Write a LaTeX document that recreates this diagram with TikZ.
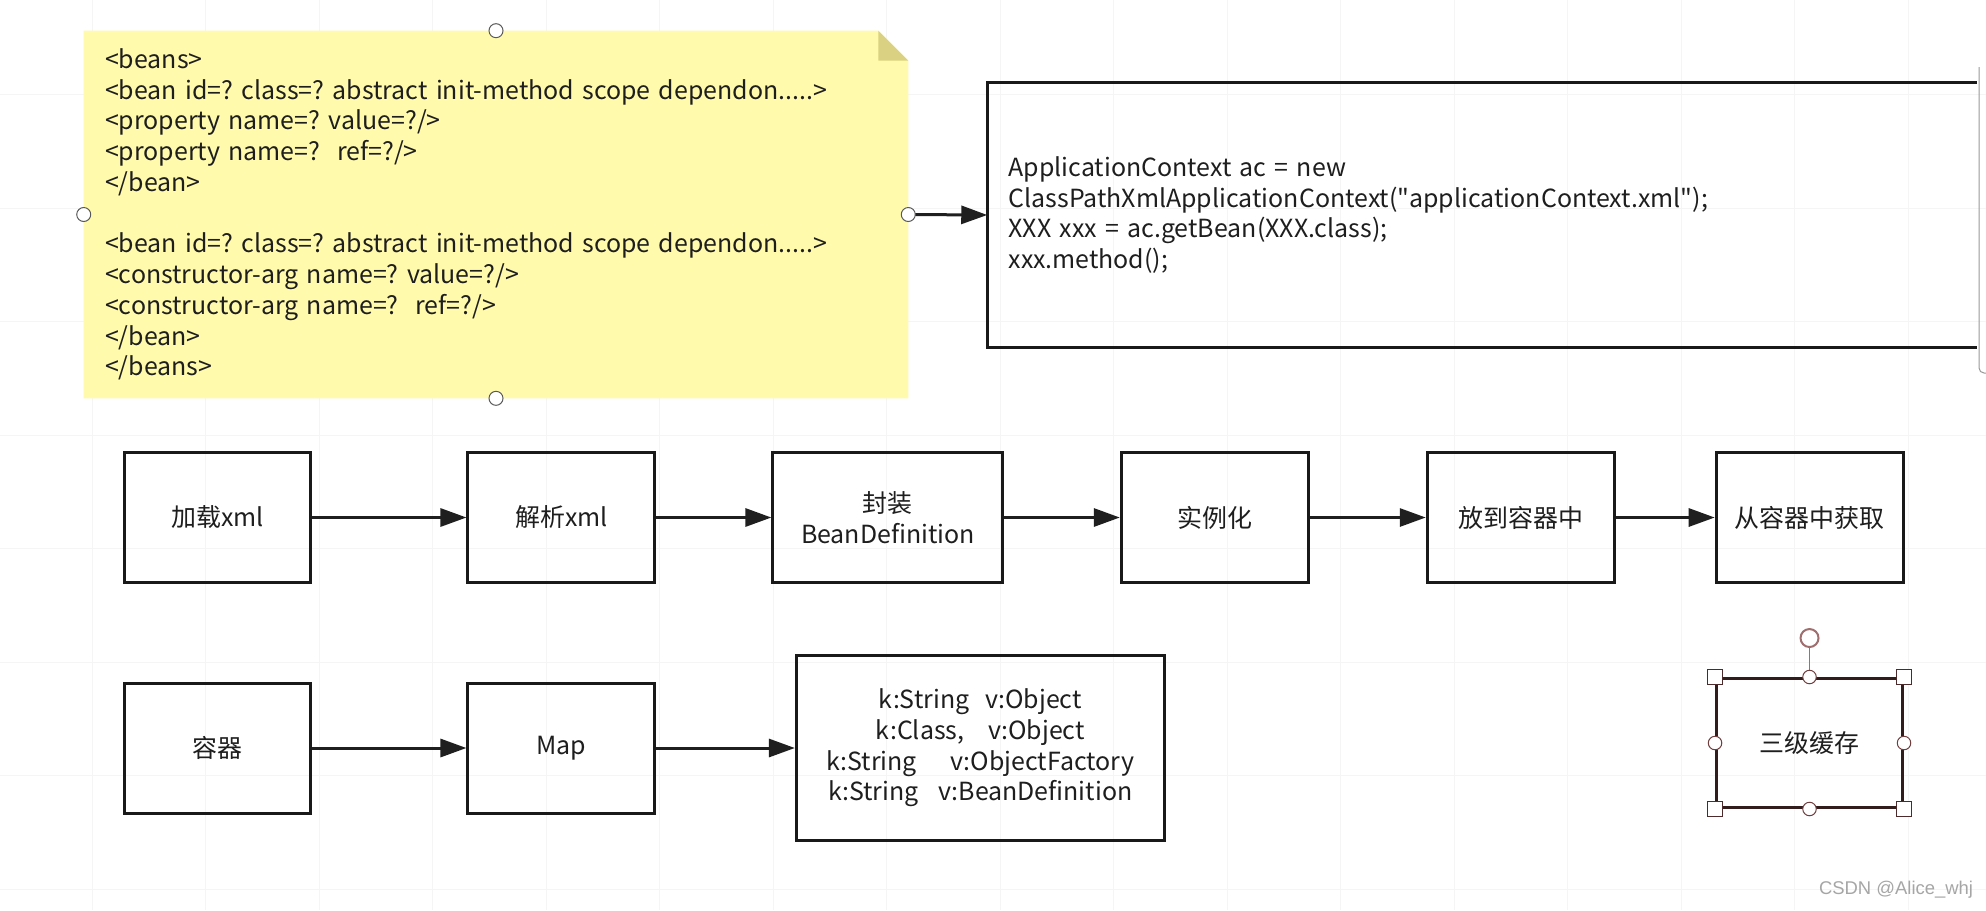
\documentclass[tikz,border=0pt]{standalone}
\usepackage{fontspec}
\setmainfont{Noto Sans CJK SC}[WordSpace=1.5]
\newfontfamily\csdnfont{Liberation Sans}
\usepackage{tikz}
\usetikzlibrary{arrows.meta,%
		backgrounds,%
		calc,%
		positioning,%
		shapes}
\frenchspacing

\definecolor{notefill}{RGB}{255,250,172}
\definecolor{notefold}{RGB}{218,210,130}
\definecolor{textgray}{RGB}{30,30,30}
\definecolor{selbrown}{RGB}{112,62,62}
\definecolor{rotbrown}{RGB}{160,110,110}
\definecolor{gridgray}{RGB}{245,245,245}

\tikzset{
	box/.style={draw=black!90,line width=0.06cm,minimum width=3.74cm,minimum height=2.6cm,align=center,text=textgray},
	boxline/.style={draw=black!90,line width=0.06cm},
	flow/.style={draw=black!88,line width=0.06cm,-{Triangle[length=0.52cm,width=0.36cm]}},
	handle/.style={circle,draw=black!65,fill=white,line width=0.02cm,inner sep=0pt,minimum size=0.28cm},
	sqhandle/.style={rectangle,draw=selbrown!70!black,fill=white,line width=0.02cm,inner sep=0pt,minimum size=0.3cm},
	midhandle/.style={circle,draw=selbrown,fill=white,line width=0.02cm,inner sep=0pt,minimum size=0.27cm},
	rothandle/.style={circle,draw=rotbrown,fill=white,line width=0.04cm,inner sep=0pt,minimum size=0.36cm},
	gridline/.style={draw=gridgray,line width=0.02cm}
}

\begin{document}
\begin{tikzpicture}[x=0.02cm,y=-0.02cm,font=\fontsize{14.2}{17.5}\selectfont]

\useasboundingbox (0,0) rectangle (1986,910);

\begin{scope}[on background layer]
\fill[white] (0,0) rectangle (1986,910);
\foreach \i in {0,...,16}
	\draw[gridline] ({92+113.5*\i},0) -- ({92+113.5*\i},910);
\foreach \j in {0,...,7}
	\draw[gridline] (0,{94.5+113.5*\j}) -- (1986,{94.5+113.5*\j});
\end{scope}

% xml note
\node[text=textgray,align=left,text width=15.64cm,inner xsep=0.42cm,inner ysep=0.2cm,minimum height=7.34cm] (note) at (496,214.5) {%
<beans>\\
<bean id=? class=? abstract init-method scope dependon.....>\\
<property name=? value=?/>\\
<property name=?~~ref=?/>\\
</bean>\\
~\\
<bean id=? class=? abstract init-method scope dependon.....>\\
<constructor-arg name=? value=?/>\\
<constructor-arg name=?~~ref=?/>\\
</bean>\\
</beans>};

\begin{scope}[on background layer]
\fill[notefill] (note.north west) -- ([xshift=-0.6cm]note.north east) -- ([yshift=-0.6cm]note.north east)
	-- (note.south east) -- (note.south west) -- cycle;
\fill[notefold] ([xshift=-0.6cm]note.north east) -- ([yshift=-0.6cm]note.north east)
	-- ([xshift=-0.6cm,yshift=-0.6cm]note.north east) -- cycle;
\end{scope}

% code box, cut off by the right edge of the canvas
\node[align=left,text=textgray,text width=18.94cm,inner sep=0.42cm,minimum height=5.3cm] (code) at (1482,215) {%
ApplicationContext ac = new\\
ClassPathXmlApplicationContext(\textquotedbl applicationContext.xml\textquotedbl);\\
XXX xxx = ac.getBean(XXX.class);\\
xxx.method();};
\draw[boxline] (code.north east) -- (code.north west) -- (code.south west) -- (code.south east);
\draw[black!40,line width=0.02cm,rounded corners=0.1cm] (1979,67) -- (1979,373) -- (1986,373);

\draw[flow] (note.east) -- (code.west);

\foreach \a/\n in {north/nn,south/ns,west/nw,east/ne}
	\node[handle] (\n) at (note.\a) {};

% first row
\node[box] (load) at (217.5,517.5) {加载xml};
\node[box,right=3.08cm of load] (parse) {解析xml};
\node[box,minimum width=4.6cm,right=2.3cm of parse] (wrap) {封装\\BeanDefinition};
\node[box,right=2.31cm of wrap] (inst) {实例化};
\node[box,right=2.32cm of inst] (put) {放到容器中};
\node[box,right=1.98cm of put] (get) {从容器中获取};

\draw[flow] (load) -- (parse);
\draw[flow] (parse) -- (wrap);
\draw[flow] (wrap) -- (inst);
\draw[flow] (inst) -- (put);
\draw[flow] (put) -- (get);

% second row
\node[box] (store) at (217.5,748) {容器};
\node[box,right=3.08cm of store] (map) {Map};
\node[box,minimum width=7.36cm,minimum height=3.7cm,right=2.77cm of map] (kv) {%
k:String\hspace{0.32cm}v:Object\\
k:Class,\hspace{0.48cm}v:Object\\
k:String\hspace{0.68cm}v:ObjectFactory\\
k:String\hspace{0.4cm}v:BeanDefinition};

\draw[flow] (store) -- (map);
\draw[flow] (map) -- (kv);

\node[box,draw=selbrown!45!black,minimum width=3.72cm,minimum height=2.58cm] (cache) at (1809.5,743) {三级缓存};

\node[rothandle] (crot) at ([yshift=0.78cm]cache.north) {};
\draw[rotbrown,line width=0.03cm] (crot) -- (cache.north);
\foreach \a/\n in {north west/cnw,north east/cne,south west/csw,south east/cse}
	\node[sqhandle] (\n) at (cache.\a) {};
\foreach \a/\n in {north/cn,south/cs,west/cw,east/ce}
	\node[midhandle] (\n) at (cache.\a) {};

\node[text=black!35,font=\csdnfont\fontsize{10.5}{12}\selectfont] (csdn) at (1896,890) {CSDN @Alice\_whj};

\end{tikzpicture}
\end{document}
